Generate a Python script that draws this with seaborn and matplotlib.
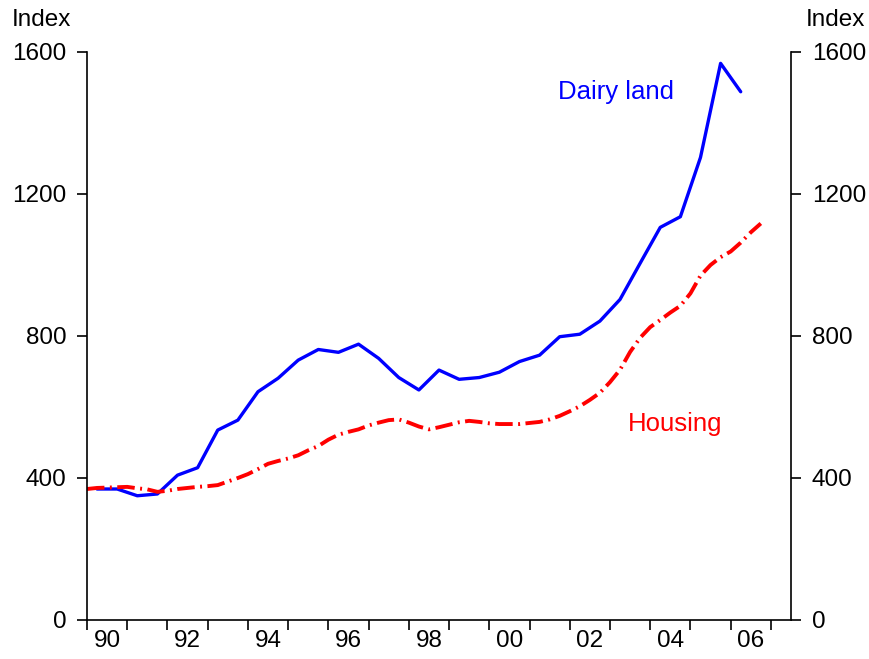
import numpy as np
import pandas as pd
import seaborn as sns
import matplotlib.pyplot as plt

# Dairy land price index, half-yearly (mid-period)
dairy_t = [1990.25 + 0.5 * i for i in range(33)]
dairy_vals = [369, 369, 350, 355, 408, 429, 535, 563, 643, 681, 732, 762,
              754, 777, 737, 683, 648, 704, 678, 683, 698, 728, 746, 798,
              805, 842, 903, 1005, 1106, 1136, 1303, 1568, 1488]

# Housing price index, quarterly
housing_t = [1990.0 + 0.25 * i for i in range(68)]
housing_vals = [369, 372, 373, 374, 375, 371, 368, 361, 364, 369, 372, 375,
                377, 380, 390, 400, 411, 425, 440, 448, 455, 464, 478, 490,
                508, 522, 530, 537, 548, 556, 563, 565, 556, 545, 537, 543,
                550, 557, 561, 558, 554, 552, 552, 552, 555, 558, 565, 575,
                588, 602, 620, 640, 670, 705, 755, 795, 825, 845, 866, 885,
                920, 970, 1000, 1022, 1038, 1063, 1092, 1117]

year_ticks = list(range(1990, 2008))
label_pos = [y + 0.5 for y in range(1990, 2007, 2)]
label_txt = ["90", "92", "94", "96", "98", "00", "02", "04", "06"]
y_ticks = [0, 400, 800, 1200, 1600]

sns.set_theme(style="white")
plt.rcParams["font.family"] = ["Liberation Sans", "DejaVu Sans"]
plt.rcParams["text.color"] = "black"
plt.rcParams["xtick.color"] = "black"
plt.rcParams["ytick.color"] = "black"

dairy = pd.DataFrame({"t": dairy_t, "v": dairy_vals})
housing = pd.DataFrame({"t": housing_t, "v": housing_vals})

fig = plt.figure(figsize=(8.69, 6.59), dpi=100)
ax = fig.add_axes([87 / 869, 1 - 620 / 659, (791 - 87) / 869, (620 - 52) / 659])

sns.lineplot(data=dairy, x="t", y="v", ax=ax, color="#0000FF", linewidth=2.4)
sns.lineplot(data=housing, x="t", y="v", ax=ax, color="#FF0000", linewidth=2.8,
             dashes=False)
ax.lines[-1].set_dashes([4.5, 1.4, 0.5, 1.4])

ax.set_xlim(1990, 2007.5)
ax.set_ylim(0, 1600)
ax.set_xlabel("")
ax.set_ylabel("")

ax.set_xticks(year_ticks)
ax.set_xticklabels([])
ax.set_xticks(label_pos, minor=True)
ax.set_xticklabels(label_txt, minor=True, fontsize=17.5)
ax.tick_params(axis="x", which="major", direction="out", length=7, width=1.2,
               color="black", bottom=True)
ax.tick_params(axis="x", which="minor", length=0, pad=7, bottom=True)

ax.set_yticks(y_ticks)
ax.set_yticklabels([str(v) for v in y_ticks], fontsize=17.5)
ax.tick_params(axis="y", direction="out", length=7, width=1.2, color="black",
               left=True, right=True, labelleft=True, labelright=True, pad=8)

for side in ["left", "right", "bottom"]:
    ax.spines[side].set_color("black")
    ax.spines[side].set_linewidth(1.2)
ax.spines["top"].set_visible(False)

ax.text(2001.7, 1487, "Dairy land", color="#0000FF", fontsize=18.5,
        va="center", ha="left")
ax.text(2003.45, 552, "Housing", color="#FF0000", fontsize=18.5,
        va="center", ha="left")

fig.text(12 / 869, 1 - 20 / 659, "Index", fontsize=17.5, va="center", ha="left")
fig.text(865 / 869, 1 - 20 / 659, "Index", fontsize=17.5, va="center", ha="right")

fig.savefig("out.png", dpi=100)
